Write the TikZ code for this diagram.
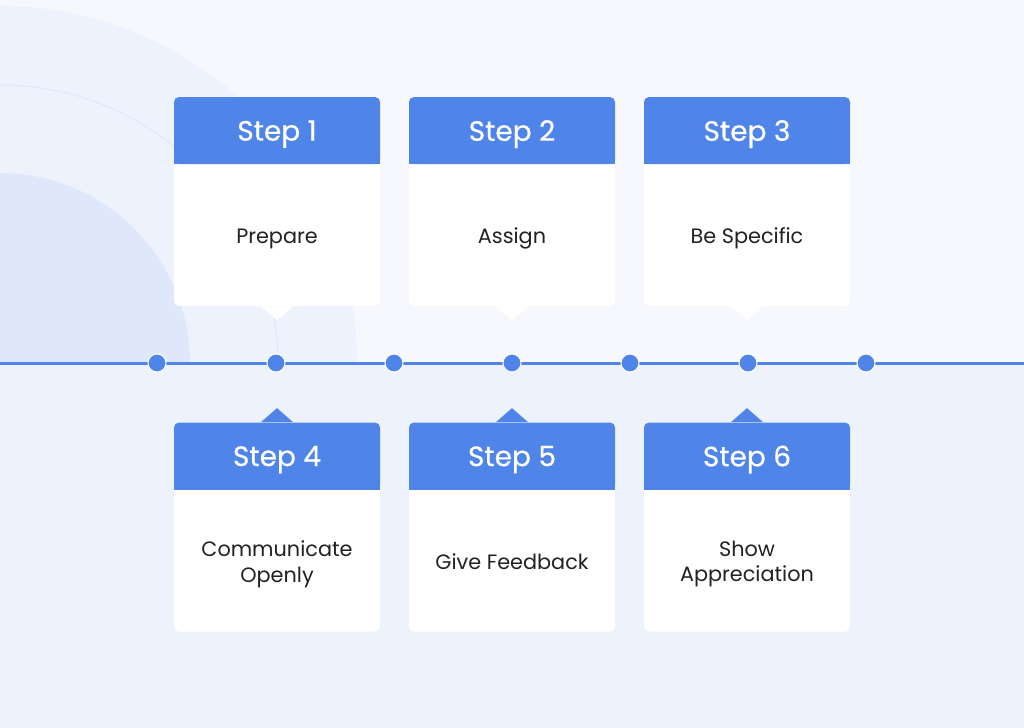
\documentclass[tikz,border=0pt]{standalone}
\usepackage{fontspec}
\setmainfont{Poppins}
\newfontfamily\headfont{Poppins}[FakeBold=0.5]
\usepackage{tikz}
\usetikzlibrary{positioning}
\definecolor{stepBlue}{HTML}{4F84E8}
\definecolor{bgTop}{HTML}{F6F8FD}
\definecolor{bgLow}{HTML}{EEF2FC}
\definecolor{ringFill}{HTML}{EEF2FC}
\definecolor{ringLine}{HTML}{E2E9FA}
\definecolor{coreFill}{HTML}{DFE8FA}
\definecolor{inkDark}{HTML}{222222}

\begin{document}
\begin{tikzpicture}[x=0.5pt,y=-0.5pt,
    stepcard/.style={fill=white, rounded corners=2.5pt, minimum width=103pt, minimum height=104.5pt, inner sep=0pt},
    stephead/.style={fill=stepBlue, rounded corners=2.5pt, text=white, minimum width=103pt, minimum height=33.5pt, inner sep=0pt, text depth=0pt, font=\headfont\fontsize{14}{16}\selectfont},
    steptext/.style={text=inkDark, align=center, minimum width=103pt, minimum height=71pt, inner sep=0pt, text depth=0pt, font=\fontsize{10.4}{12.8}\selectfont},
    stepdot/.style={circle, fill=stepBlue, draw=white, line width=0.5pt, minimum size=9pt, inner sep=0pt}]

    \useasboundingbox (0,0) rectangle (1024,728);

    % background halves
    \fill[bgTop] (-4,-4) rectangle (1028,363);
    \fill[bgLow] (-4,363) rectangle (1028,732);

    % rings in the upper left corner
    \begin{scope}
        \clip (-4,-4) rectangle (1028,363);
        \fill[ringFill] (0,363) circle (357);
        \draw[ringLine, line width=0.6pt] (0,363) circle (278);
        \fill[coreFill] (0,363) circle (190);
    \end{scope}

    % timeline
    \coordinate (lineW) at (-4,363);
    \coordinate (lineE) at (1028,363);
    \draw[stepBlue, line width=1.5pt] (lineW) -- (lineE);
    \foreach \i/\x in {1/157,2/276,3/394,4/512,5/630,6/748,7/866} {
        \node[stepdot] (d\i) at (\x,363) {};
    }

    % upper cards, pointer down
    \foreach \n/\x/\head/\txt in {1/277/Step 1/Prepare, 2/512/Step 2/Assign, 3/747/Step 3/Be Specific} {
        \node[stepcard] (c\n) at (\x,201.5) {};
        \node[stephead, below=0pt of c\n.north] (h\n) {\head};
        \fill[stepBlue] ([yshift=3pt]h\n.south west) rectangle (h\n.south east);
        \node[steptext, below=0pt of h\n] (t\n) {\txt};
        \fill[white] ([xshift=-8pt]c\n.south) -- ([yshift=-7pt]c\n.south) -- ([xshift=8pt]c\n.south) -- cycle;
    }

    % lower cards, pointer up
    \foreach \n/\x/\head/\txt in {4/277/Step 4/{Communicate\\Openly}, 5/512/Step 5/Give Feedback, 6/747/Step 6/{Show\\Appreciation}} {
        \node[stepcard] (c\n) at (\x,527) {};
        \node[stephead, below=0pt of c\n.north] (h\n) {\head};
        \fill[stepBlue] ([yshift=3pt]h\n.south west) rectangle (h\n.south east);
        \node[steptext, below=0pt of h\n] (t\n) {\txt};
        \fill[stepBlue] ([xshift=-8pt]c\n.north) -- ([yshift=7pt]c\n.north) -- ([xshift=8pt]c\n.north) -- cycle;
    }
\end{tikzpicture}
\end{document}
